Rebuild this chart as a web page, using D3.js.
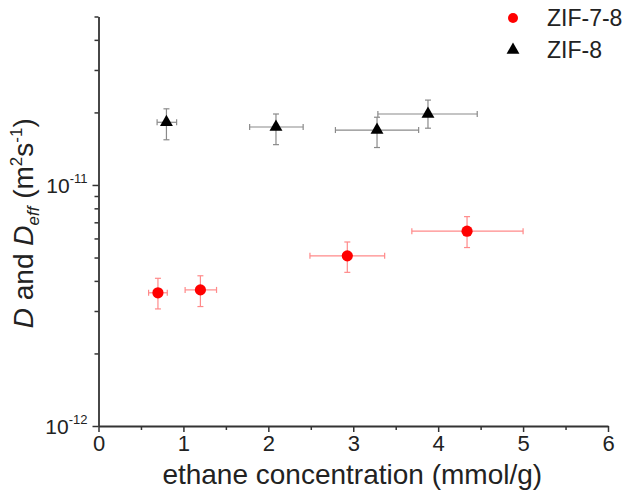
<!DOCTYPE html>
<html>
<head>
<meta charset="utf-8">
<script src="https://cdn.jsdelivr.net/npm/d3@7"></script>
<style>
  html, body { margin: 0; padding: 0; background: #fff; }
  svg { display: block; font-family: Arial, "Liberation Sans", sans-serif; }
</style>
</head>
<body>
<svg id="chart" width="630" height="502"></svg>
<script>
// ---- data ----
const seriesNames = ["ZIF-7-8", "ZIF-8"];

// ZIF-7-8 (red circles)
const zif78X    = [0.70, 1.20, 2.93, 4.34];
const zif78Y    = [3.57e-12, 3.67e-12, 5.08e-12, 6.43e-12];
const zif78XLo  = [0.59, 1.02, 2.49, 3.69];
const zif78XHi  = [0.81, 1.39, 3.37, 5.00];
const zif78YLo  = [3.06e-12, 3.13e-12, 4.34e-12, 5.50e-12];
const zif78YHi  = [4.10e-12, 4.20e-12, 5.80e-12, 7.39e-12];

// ZIF-8 (black triangles)
const zif8X     = [0.80, 2.09, 3.28, 3.88];
const zif8Y     = [1.82e-11, 1.74e-11, 1.69e-11, 1.97e-11];
const zif8XLo   = [0.69, 1.78, 2.79, 3.29];
const zif8XHi   = [0.92, 2.41, 3.77, 4.46];
const zif8YLo   = [1.54e-11, 1.47e-11, 1.43e-11, 1.72e-11];
const zif8YHi   = [2.07e-11, 1.97e-11, 1.91e-11, 2.25e-11];

const xTicks = [0, 1, 2, 3, 4, 5, 6];
const xMinorTicks = [0.5, 1.5, 2.5, 3.5, 4.5, 5.5];
const yTickExps = [-12, -11];
const yMinorTicks = [2e-12,3e-12,4e-12,5e-12,6e-12,7e-12,8e-12,9e-12,2e-11,3e-11,4e-11,5e-11];
const xDomain = [0, 6];
const yDomain = [1e-12, 5e-11];

// ---- layout ----
const svg = d3.select("#chart");
const x = d3.scaleLinear().domain(xDomain).range([98.5, 608]);
const y = d3.scaleLog().domain(yDomain).range([426, 16.5]);
const axisColor = "#333";

const build = (xs, ys, xl, xh, yl, yh) => xs.map((v, i) => ({x: v, y: ys[i], xl: xl[i], xh: xh[i], yl: yl[i], yh: yh[i]}));
const data78 = build(zif78X, zif78Y, zif78XLo, zif78XHi, zif78YLo, zif78YHi);
const data8 = build(zif8X, zif8Y, zif8XLo, zif8XHi, zif8YLo, zif8YHi);

// ---- axes ----
const xAxisG = svg.append("g").attr("transform", `translate(0,${y(yDomain[0])})`)
  .call(d3.axisBottom(x).tickValues(xTicks).tickFormat(d3.format("d")).tickSize(6).tickSizeOuter(0));
xAxisG.selectAll(".tick text").attr("font-size", 22).attr("dy", "0.71em").attr("fill", "#222");
const xMinorG = svg.append("g").attr("transform", `translate(0,${y(yDomain[0])})`)
  .call(d3.axisBottom(x).tickValues(xMinorTicks).tickFormat("").tickSize(4).tickSizeOuter(0));
xMinorG.select(".domain").remove();

const yAxisG = svg.append("g").attr("transform", `translate(${x(xDomain[0])},0)`)
  .call(d3.axisLeft(y).tickValues(yTickExps.map(e => Math.pow(10, e))).tickFormat("").tickSize(6).tickSizeOuter(0));
const yMinorG = svg.append("g").attr("transform", `translate(${x(xDomain[0])},0)`)
  .call(d3.axisLeft(y).tickValues(yMinorTicks).tickFormat("").tickSize(4).tickSizeOuter(0));
yMinorG.select(".domain").remove();

[xAxisG, xMinorG, yAxisG, yMinorG].forEach(g => {
  g.selectAll("path.domain").attr("stroke", axisColor).attr("stroke-width", 1.8);
  g.selectAll(".tick line").attr("stroke", axisColor).attr("stroke-width", 1.5);
});

// y tick labels 10^exp
yTickExps.forEach(e => {
  const t = svg.append("text")
    .attr("x", x(xDomain[0]) - 11).attr("y", y(Math.pow(10, e)) + 8)
    .attr("text-anchor", "end").attr("font-size", 21).attr("fill", "#222");
  t.append("tspan").text("10");
  t.append("tspan").attr("font-size", 13).attr("dy", -10).text(String(e));
});

// axis titles
svg.append("text").attr("x", (x(0) + x(6)) / 2 - 1).attr("y", 484)
  .attr("text-anchor", "middle").attr("font-size", 28).attr("fill", "#222")
  .text("ethane concentration (mmol/g)");

const yt = svg.append("text")
  .attr("transform", `translate(33,${(y(yDomain[0]) + y(yDomain[1])) / 2 + 2}) rotate(-90)`)
  .attr("text-anchor", "middle").attr("font-size", 28).attr("fill", "#222");
yt.append("tspan").attr("font-style", "italic").text("D");
yt.append("tspan").text(" and ");
yt.append("tspan").attr("font-style", "italic").text("D");
yt.append("tspan").attr("font-style", "italic").attr("font-size", 17).attr("dy", 6).text("eff");
yt.append("tspan").attr("dy", -6).text(" (m");
yt.append("tspan").attr("font-size", 17).attr("dy", -11).text("2");
yt.append("tspan").attr("dy", 11).text("s");
yt.append("tspan").attr("font-size", 17).attr("dy", -11).text("-1");
yt.append("tspan").attr("dy", 11).text(")");

// ---- error bars ----
function errorBars(data, color) {
  const g = svg.append("g").attr("stroke", color).attr("stroke-width", 1.2);
  const cap = 3;
  data.forEach(d => {
    const cx = x(d.x), cy = y(d.y);
    g.append("line").attr("x1", x(d.xl)).attr("x2", x(d.xh)).attr("y1", cy).attr("y2", cy);
    g.append("line").attr("x1", x(d.xl)).attr("x2", x(d.xl)).attr("y1", cy - cap).attr("y2", cy + cap);
    g.append("line").attr("x1", x(d.xh)).attr("x2", x(d.xh)).attr("y1", cy - cap).attr("y2", cy + cap);
    g.append("line").attr("x1", cx).attr("x2", cx).attr("y1", y(d.yl)).attr("y2", y(d.yh));
    g.append("line").attr("x1", cx - cap).attr("x2", cx + cap).attr("y1", y(d.yl)).attr("y2", y(d.yl));
    g.append("line").attr("x1", cx - cap).attr("x2", cx + cap).attr("y1", y(d.yh)).attr("y2", y(d.yh));
  });
}
errorBars(data8, "#8a8a8a");
errorBars(data78, "#ff8a8a");

// ---- markers ----
const triSym = d3.symbol().type(d3.symbolTriangle).size(72);
svg.append("g").selectAll("path").data(data8).join("path")
  .attr("d", triSym).attr("fill", "#000")
  .attr("transform", d => `translate(${x(d.x)},${y(d.y)})`);
svg.append("g").selectAll("circle").data(data78).join("circle")
  .attr("cx", d => x(d.x)).attr("cy", d => y(d.y)).attr("r", 5.6).attr("fill", "#ff0000");

// ---- legend ----
const lg = svg.append("g");
lg.append("circle").attr("cx", 513).attr("cy", 18).attr("r", 5).attr("fill", "#ff0000");
lg.append("path").attr("d", triSym).attr("fill", "#000").attr("transform", "translate(513,50)");
lg.append("text").attr("x", 547).attr("y", 26).attr("font-size", 23).attr("fill", "#222").text(seriesNames[0]);
lg.append("text").attr("x", 547).attr("y", 58).attr("font-size", 23).attr("fill", "#222").text(seriesNames[1]);
</script>
</body>
</html>
